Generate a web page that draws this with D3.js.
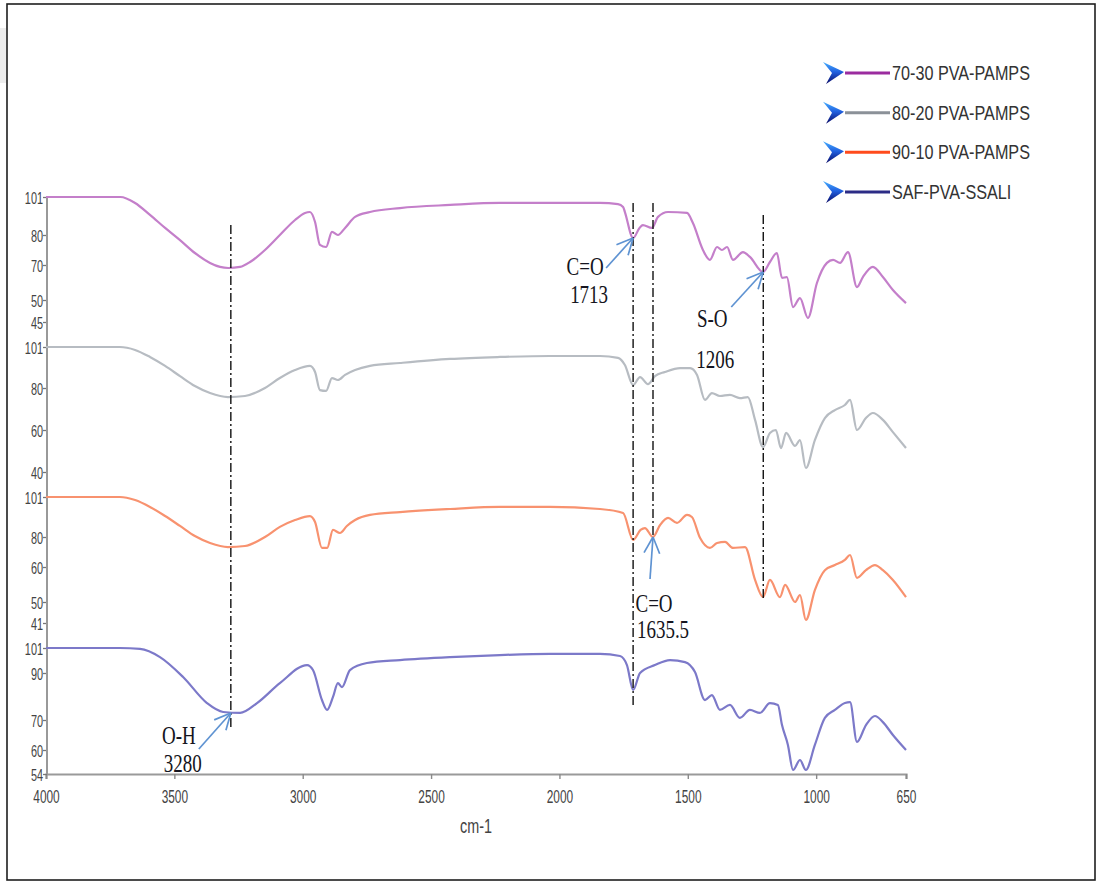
<!DOCTYPE html>
<html><head><meta charset="utf-8">
<script src="https://cdn.jsdelivr.net/npm/d3@7"></script>
<style>body{margin:0;background:#fff} svg{display:block}</style>
</head><body><svg id="c" width="1101" height="883"></svg>
<script>
// ---------- DATA ----------
const xTicks = [4000, 3500, 3000, 2500, 2000, 1500, 1000, 650];
const seriesNames = ["70-30 PVA-PAMPS", "80-20 PVA-PAMPS", "90-10 PVA-PAMPS", "SAF-PVA-SSALI"];
const panelTicks = [[101, 80, 70, 50, 45], [101, 80, 60, 40], [101, 80, 60, 50, 41], [101, 90, 70, 60, 54]];

// [wavenumber cm-1, transmittance]
const pvaPamps7030 = [[4000,101],[3710,101],[3653,97.7],[3595,91.1],[3536,83.9],[3478,78.3],[3420,74.0],[3361,70.7],[3322,68.9],[3290,68.3],[3244,68.9],[3205,71.0],[3147,75.0],[3089,80],[3030,88.3],[2991,92.2],[2972,92.7],[2952,87.2],[2933,76.7],[2909,76.0],[2886,81.7],[2863,80],[2835,83.9],[2796,90.0],[2738,92.7],[2621,94.9],[2426,96.6],[2232,97.7],[2037,97.7],[1842,97.7],[1772,97.1],[1752,95.5],[1745,92.7],[1713,79.0],[1688,83.9],[1675,85.5],[1640,83.9],[1616,90.0],[1577,92.7],[1503,92.2],[1480,86.6],[1441,75.0],[1414,71.7],[1386,76.0],[1367,75.0],[1347,76.0],[1324,71.7],[1285,74.3],[1258,72.7],[1207,66.0],[1180,71.0],[1153,74.0],[1133,62.6],[1114,63.1],[1090,48.4],[1063,51.1],[1032,45.9],[997,59.7],[958,70.7],[934,71.7],[907,70.7],[876,74.3],[841,57.4],[818,63.1],[779,68.9],[740,63.1],[701,55.7],[650,49.3]];
const pvaPamps8020 = [[4000,101],[3712,101],[3653,99.5],[3595,95.9],[3536,91.3],[3478,86.1],[3420,81.0],[3361,77.6],[3291,75.7],[3225,76.2],[3147,80],[3089,85.1],[3030,89.2],[2972,91.3],[2952,88.2],[2933,79.0],[2909,78.6],[2886,85.1],[2863,84.1],[2835,86.7],[2796,89.2],[2738,91.3],[2621,92.8],[2426,94.9],[2232,95.9],[2037,96.4],[1842,96.4],[1772,95.4],[1745,91.8],[1713,81.5],[1686,85.6],[1655,82.0],[1628,86.1],[1589,88.2],[1530,90.2],[1491,90.2],[1464,86.7],[1433,74.3],[1406,77.6],[1375,76.2],[1336,76.7],[1297,75.2],[1266,75.7],[1238,64.8],[1207,51.9],[1180,58.6],[1157,60],[1137,51.4],[1117,58.6],[1082,52.4],[1063,55.2],[1040,41.9],[1005,55.2],[966,65.7],[927,69.5],[888,71.9],[868,74.3],[841,60],[806,65.7],[779,68.1],[740,64.8],[701,59.0],[650,51.4]];
const pvaPamps9010 = [[4000,101],[3712,101],[3653,99.4],[3595,95.8],[3536,91.0],[3478,85.8],[3420,80.5],[3361,76.0],[3291,73.3],[3225,74.0],[3147,80],[3089,85.3],[3030,88.9],[2972,91.0],[2952,87.9],[2925,72.7],[2905,72.7],[2882,83.7],[2855,82.1],[2828,85.8],[2796,88.9],[2738,91.6],[2621,93.1],[2426,94.7],[2232,95.8],[2037,95.8],[1842,94.7],[1752,92.6],[1713,78.0],[1684,83.7],[1667,84.7],[1636,80],[1608,86.3],[1577,90.0],[1542,87.4],[1503,91.6],[1484,90.5],[1452,79.3],[1414,72.7],[1386,76.0],[1355,76.7],[1324,72.7],[1277,73.3],[1238,56.3],[1207,51.4],[1180,56.3],[1141,51.4],[1121,54.9],[1082,50],[1063,52.0],[1040,42.3],[1005,53.4],[966,59.1],[927,61.3],[888,64.7],[868,68.0],[841,56.9],[806,59.1],[771,61.3],[740,59.1],[701,56.3],[650,51.4]];
const safPvaSsali = [[4000,101],[3712,101],[3634,100.6],[3556,97.0],[3466,88.3],[3373,77.2],[3310,73.4],[3244,73.0],[3178,77.2],[3089,85.7],[2983,93.5],[2960,91.3],[2925,78.5],[2905,74.3],[2882,79.8],[2863,85.7],[2847,84.0],[2816,91.3],[2750,94.4],[2621,95.7],[2426,97.0],[2232,97.9],[2037,98.4],[1842,98.4],[1764,97.5],[1737,93.5],[1713,82.8],[1686,90],[1628,93.5],[1569,95.7],[1511,94.8],[1472,90.4],[1433,78.5],[1406,80.6],[1375,74.3],[1336,76.4],[1297,70.9],[1258,74.3],[1219,73.0],[1180,77.2],[1149,76.4],[1133,68.3],[1110,61.7],[1090,55.0],[1063,57.5],[1040,55.0],[1005,61.7],[966,70.9],[927,74.3],[888,77.2],[868,77.6],[841,62.7],[806,68.3],[771,71.7],[740,69.3],[701,65.0],[650,60]];

// peak marker lines: wavenumber, start [panel, T], end [panel, T]
const peakLines = [
  {wn: 3280, from: [0, 85.5], to: [3, 66.7]},
  {wn: 1713, from: [0, 97.7], to: [3, 76.4]},
  {wn: 1635.5, from: [0, 97.7], to: [2, 78.0]},
  {wn: 1206, from: [0, 91.1], to: [2, 50.6]}
];
// peak annotations
const peakLabels = [
  {name: "C=O", num: "1713", wn: 1713, panel: 0, T: 79.0},
  {name: "S-O", num: "1206", wn: 1206, panel: 0, T: 66.0},
  {name: "C=O", num: "1635.5", wn: 1635.5, panel: 2, T: 80},
  {name: "O-H", num: "3280", wn: 3280, panel: 3, T: 73.0}
];

// ---------- LAYOUT / STYLE ----------
const series = [pvaPamps7030, pvaPamps8020, pvaPamps9010, safPvaSsali];
const curveColors = ["#c47fca", "#b7bcc2", "#f8926f", "#7c79c9"];
const legendColors = ["#9b2c9f", "#8b9198", "#ff4b1c", "#2c2c86"];
const panelRanges = [[197,235,265,300,322],[347,388,430,472],[497,537,567,602,623],[648,673,720,750,774]];
// annotation offsets relative to arrow tip: tail, name text, number text
const labelOffsets = [
  {tail: [-27, 30], t1: [-48, 37], t2: [-44, 65]},
  {tail: [-32, 35], t1: [-51, 55], t2: [-48, 96]},
  {tail: [-3, 42], t1: [1, 75], t2: [10, 101]},
  {tail: [-32, 36], t1: [-52, 31], t2: [-48, 59]}
];

const svg = d3.select("#c");
svg.append("rect").attr("width",1101).attr("height",883).attr("fill","#fff");
svg.append("rect").attr("x",0).attr("y",28).attr("width",6).attr("height",55).attr("fill","#ededed");
svg.append("rect").attr("x",7).attr("y",4).attr("width",1088).attr("height",876)
  .attr("fill","none").attr("stroke","#1e1e1e").attr("stroke-width",1.6);

const x = d3.scaleLinear().domain([4000, 650]).range([46, 906]);
const ys = panelTicks.map((t, i) => d3.scaleLinear().domain(t).range(panelRanges[i]));

// axes
const axisY = 774, axisX = 47;
const gx = svg.append("g").attr("transform", `translate(0,${axisY})`)
  .call(d3.axisBottom(x).tickValues(xTicks).tickSize(5).tickFormat(d3.format("d")));
gx.select(".domain").attr("stroke", "#9a9a9a").attr("stroke-width", 2.2);
gx.selectAll(".tick line").attr("stroke", "#8a8a8a").attr("stroke-width", 1.4);
gx.selectAll(".tick text").attr("y", 0).attr("dy", 0)
  .attr("transform", "translate(0,29) scale(0.66,1)")
  .attr("font-family", "Liberation Sans, Arial, sans-serif").attr("font-size", 18).attr("fill", "#444");

ys.forEach((y, i) => {
  const g = svg.append("g").attr("transform", `translate(${axisX},0)`)
    .call(d3.axisLeft(y).tickValues(panelTicks[i]).tickSize(4));
  g.select(".domain").remove();
  g.selectAll(".tick line").attr("stroke", "#777").attr("stroke-width", 1.3);
  g.selectAll(".tick text").attr("x", 0).attr("dy", "0.36em")
    .attr("transform", "translate(-4,0) scale(0.64,1)")
    .attr("font-family", "Liberation Sans, Arial, sans-serif").attr("font-size", 17).attr("fill", "#444");
});
svg.append("line").attr("x1", axisX).attr("x2", axisX)
  .attr("y1", ys[0](101)).attr("y2", ys[3](54))
  .attr("stroke", "#999").attr("stroke-width", 2);

svg.append("text").text("cm-1")
  .attr("transform", `translate(${x(2325)},833) scale(0.72,1)`)
  .attr("text-anchor", "middle")
  .attr("font-family", "Liberation Sans, Arial, sans-serif").attr("font-size", 20).attr("fill", "#444");

// curves
series.forEach((s, i) => {
  const line = d3.line().x(d => x(d[0])).y(d => ys[i](d[1])).curve(d3.curveMonotoneX);
  svg.append("path").datum(s).attr("d", line)
    .attr("fill", "none").attr("stroke", curveColors[i]).attr("stroke-width", 2.2)
    .attr("stroke-linejoin", "round");
});

// peak lines
peakLines.forEach(p => {
  svg.append("line")
    .attr("x1", x(p.wn)).attr("x2", x(p.wn))
    .attr("y1", ys[p.from[0]](p.from[1])).attr("y2", ys[p.to[0]](p.to[1]))
    .attr("stroke", "#111").attr("stroke-width", 1.4)
    .attr("stroke-dasharray", "9,3,2,3");
});

// annotations
const arrowColor = "#5f93d2";
peakLabels.forEach((a, i) => {
  const o = labelOffsets[i];
  const tx = x(a.wn), ty = ys[a.panel](a.T);
  const sx = tx + o.tail[0], sy = ty + o.tail[1];
  svg.append("line").attr("x1", sx).attr("y1", sy).attr("x2", tx).attr("y2", ty)
    .attr("stroke", arrowColor).attr("stroke-width", 1.7);
  const ang = Math.atan2(sy - ty, sx - tx);
  [-0.45, 0.45].forEach(da => {
    svg.append("line").attr("x1", tx).attr("y1", ty)
      .attr("x2", tx + 18 * Math.cos(ang + da)).attr("y2", ty + 18 * Math.sin(ang + da))
      .attr("stroke", arrowColor).attr("stroke-width", 1.7);
  });
  [[a.name, o.t1], [a.num, o.t2]].forEach(([t, off]) => {
    svg.append("text").text(t)
      .attr("transform", `translate(${tx + off[0]},${ty + off[1]}) scale(1,1.3)`)
      .attr("text-anchor", "middle")
      .attr("font-family", "Liberation Serif, Times New Roman, serif").attr("font-size", 19)
      .attr("fill", "#151520");
  });
});

// legend
const defs = svg.append("defs");
const grad = defs.append("linearGradient").attr("id", "chev").attr("x1", 0).attr("y1", 0).attr("x2", 0).attr("y2", 1);
grad.append("stop").attr("offset", "0%").attr("stop-color", "#48b0ff");
grad.append("stop").attr("offset", "45%").attr("stop-color", "#2060e0");
grad.append("stop").attr("offset", "100%").attr("stop-color", "#0a0a66");
const legY = d3.scalePoint().domain(seriesNames).range([73, 192]);
seriesNames.forEach((n, i) => {
  const cy = legY(n);
  const g = svg.append("g").attr("transform", `translate(0,${cy})`);
  g.append("path").attr("d", "M823,-11 L844,-1 L826,11 L832,0 Z").attr("fill", "url(#chev)");
  g.append("line").attr("x1", 845).attr("x2", 890).attr("y1", 0).attr("y2", 0)
    .attr("stroke", legendColors[i]).attr("stroke-width", 3);
  g.append("text").text(n)
    .attr("transform", "translate(892,7) scale(0.81,1)")
    .attr("font-family", "Liberation Sans, Arial, sans-serif").attr("font-size", 20).attr("fill", "#333");
});
</script></body></html>
